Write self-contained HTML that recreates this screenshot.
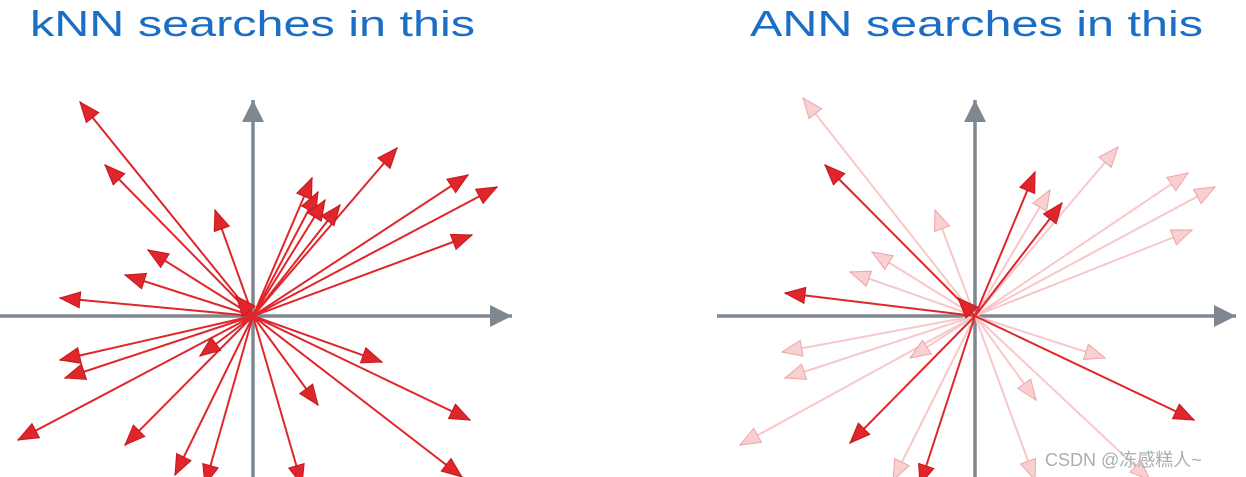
<!DOCTYPE html>
<html><head><meta charset="utf-8"><style>
html,body{margin:0;padding:0;background:#fff;}
svg{display:block;}
</style></head><body>
<svg width="1246" height="477" viewBox="0 0 1246 477" xmlns="http://www.w3.org/2000/svg">
<defs>
<marker id="r" refX="0" refY="0" markerWidth="40" markerHeight="40" markerUnits="userSpaceOnUse" orient="auto" style="overflow:visible">
<path d="M-20,-8 L0,0 L-20,8 Z" fill="#e0262b" stroke="#c01a1f" stroke-width="1"/>
</marker>
<marker id="f" refX="0" refY="0" markerWidth="40" markerHeight="40" markerUnits="userSpaceOnUse" orient="auto" style="overflow:visible">
<path d="M-20,-8 L0,0 L-20,8 Z" fill="#f8d0d1" stroke="#eda5a7" stroke-width="1"/>
</marker>
<marker id="g" refX="0" refY="0" markerWidth="40" markerHeight="40" markerUnits="userSpaceOnUse" orient="auto" style="overflow:visible">
<path d="M-22,-11 L0,0 L-22,11 Z" fill="#7f8891"/>
</marker>
</defs>
<g font-family="Liberation Sans, sans-serif" fill="#1a6fc4" font-size="36">
<text x="30" y="36" textLength="445" lengthAdjust="spacingAndGlyphs">kNN searches in this</text>
<text x="750" y="36" textLength="453" lengthAdjust="spacingAndGlyphs">ANN searches in this</text>
</g>
<g stroke="#7f8891" stroke-width="3.5" fill="none">
<line x1="0" y1="316" x2="512" y2="316" marker-end="url(#g)"/>
<line x1="253" y1="477" x2="253" y2="100" marker-end="url(#g)"/>
<line x1="717" y1="316" x2="1236" y2="316" marker-end="url(#g)"/>
<line x1="975" y1="477" x2="975" y2="100" marker-end="url(#g)"/>
</g>
<g stroke="#e0262b" stroke-width="2" fill="none" marker-end="url(#r)">
<line x1="253" y1="316" x2="80" y2="102"/>
<line x1="253" y1="316" x2="105" y2="165"/>
<line x1="253" y1="316" x2="215" y2="210"/>
<line x1="253" y1="316" x2="148" y2="250"/>
<line x1="253" y1="316" x2="125" y2="275"/>
<line x1="253" y1="316" x2="60" y2="298"/>
<line x1="253" y1="316" x2="60" y2="360"/>
<line x1="253" y1="316" x2="65" y2="378"/>
<line x1="253" y1="316" x2="18" y2="440"/>
<line x1="253" y1="316" x2="125" y2="445"/>
<line x1="253" y1="316" x2="175" y2="475"/>
<line x1="253" y1="316" x2="205" y2="485"/>
<line x1="253" y1="316" x2="302" y2="485"/>
<line x1="253" y1="316" x2="318" y2="405"/>
<line x1="253" y1="316" x2="200" y2="356"/>
<line x1="253" y1="316" x2="382" y2="362"/>
<line x1="253" y1="316" x2="470" y2="420"/>
<line x1="253" y1="316" x2="462" y2="477"/>
<line x1="253" y1="316" x2="397" y2="148"/>
<line x1="253" y1="316" x2="312" y2="178"/>
<line x1="253" y1="316" x2="318" y2="192"/>
<line x1="253" y1="316" x2="325" y2="200"/>
<line x1="253" y1="316" x2="340" y2="205"/>
<line x1="253" y1="316" x2="468" y2="175"/>
<line x1="253" y1="316" x2="497" y2="187"/>
<line x1="253" y1="316" x2="472" y2="235"/>
<line x1="253" y1="316" x2="236" y2="296"/>
</g>
<g stroke="#f8c8c9" stroke-width="2" fill="none" marker-end="url(#f)">
<line x1="975" y1="316" x2="803" y2="98"/>
<line x1="975" y1="316" x2="1118" y2="147"/>
<line x1="975" y1="316" x2="1188" y2="173"/>
<line x1="975" y1="316" x2="1215" y2="187"/>
<line x1="975" y1="316" x2="1192" y2="230"/>
<line x1="975" y1="316" x2="935" y2="210"/>
<line x1="975" y1="316" x2="872" y2="252"/>
<line x1="975" y1="316" x2="850" y2="272"/>
<line x1="975" y1="316" x2="1050" y2="190"/>
<line x1="975" y1="316" x2="782" y2="352"/>
<line x1="975" y1="316" x2="785" y2="378"/>
<line x1="975" y1="316" x2="740" y2="445"/>
<line x1="975" y1="316" x2="910" y2="358"/>
<line x1="975" y1="316" x2="1036" y2="400"/>
<line x1="975" y1="316" x2="1105" y2="358"/>
<line x1="975" y1="316" x2="893" y2="480"/>
<line x1="975" y1="316" x2="1035" y2="480"/>
<line x1="975" y1="316" x2="1150" y2="480"/>
</g>
<g stroke="#e0262b" stroke-width="2" fill="none" marker-end="url(#r)">
<line x1="975" y1="316" x2="825" y2="165"/>
<line x1="975" y1="316" x2="1035" y2="172"/>
<line x1="975" y1="316" x2="1062" y2="203"/>
<line x1="975" y1="316" x2="785" y2="293"/>
<line x1="975" y1="316" x2="1194" y2="420"/>
<line x1="975" y1="316" x2="850" y2="443"/>
<line x1="975" y1="316" x2="920" y2="485"/>
<line x1="975" y1="316" x2="958" y2="298"/>
</g>
<text x="1045" y="466" font-family="Liberation Sans, 'Noto Sans CJK SC', sans-serif" font-size="18" fill="#a9aeb3">CSDN @冻感糕人~</text>
</svg>
</body></html>
